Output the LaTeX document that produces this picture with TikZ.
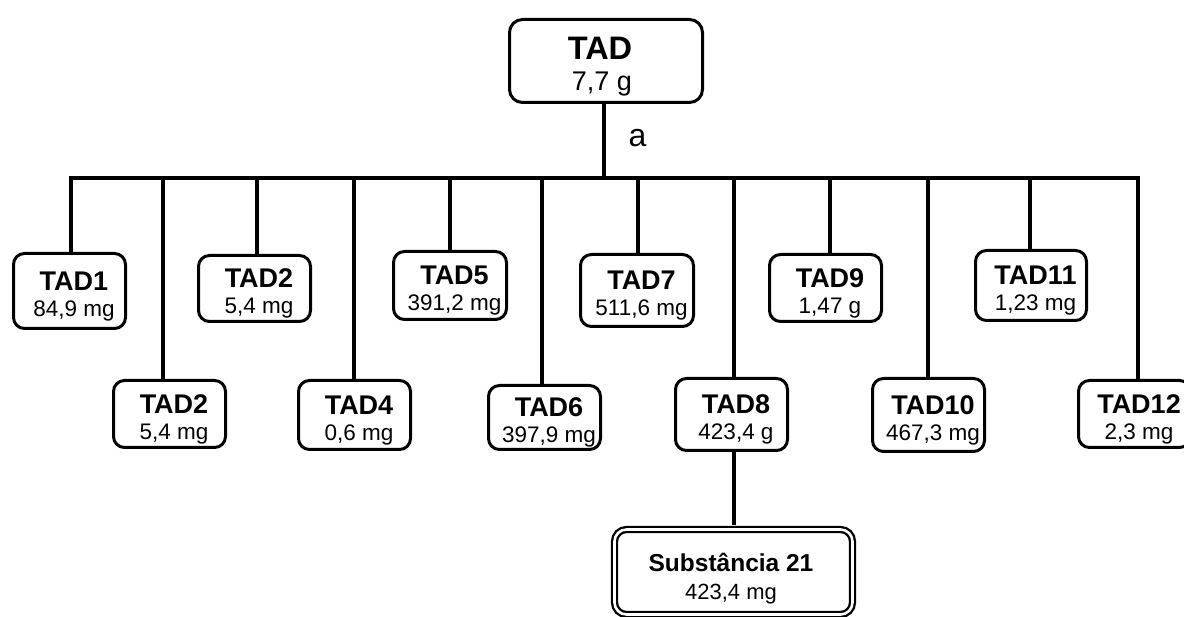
\documentclass[tikz,border=0pt]{standalone}
\usepackage{fontspec}
\setmainfont{Liberation Sans}
\tikzset{
  box/.style={draw, rounded corners=11pt, line width=3pt, inner sep=0pt},
  ttl/.style={font=\fontsize{27}{30}\selectfont\bfseries, anchor=base, inner sep=0pt},
  val/.style={font=\fontsize{22.5}{25}\selectfont, anchor=base, inner sep=0pt},
  link/.style={line width=3.2pt}
}
\newcommand\tadbox[8]{%
  \node[box, minimum width={#4-#2-3}, minimum height={#5-#3-3}] (#1) at ({(#2+#4)/2},{(#3+#5)/2}) {};
  \node[ttl] (#1t) at ({(#2+#4)/2+4.5},{(#3+#5)/2-0.5}) {#7};
  \node[val] (#1v) at ({(#2+#4)/2+4.5},{(#3+#5)/2+25.5}) {#8};
  \coordinate (#1d) at (#6,178);
}
\begin{document}
\begin{tikzpicture}[x=1pt,y=-1pt]
\useasboundingbox (0,0) rectangle (1184,617);
% root
\node[box, rounded corners=13pt, minimum width=193, minimum height=83] (root) at (606,61) {};
\node[ttl, font=\fontsize{32.5}{35}\selectfont\bfseries] (roott) at (600,60) {TAD};
\node[val, font=\fontsize{27}{30}\selectfont] (rootv) at (602,91) {7,7 g};
\coordinate (rd) at (604,178);
\node[anchor=base, inner sep=0pt, font=\fontsize{32}{35}\selectfont] (lbla) at (637.5,146.5) {a};
% children
\tadbox{tadA}{12}{252}{127}{330}{71}{TAD1}{84,9 mg}
\tadbox{tadB}{112}{379}{227}{449}{163}{TAD2}{5,4 mg}
\tadbox{tadC}{197}{254}{312}{323}{257}{TAD2}{5,4 mg}
\tadbox{tadD}{297}{379}{412}{451}{354}{TAD4}{0,6 mg}
\tadbox{tadE}{392}{250}{508}{321}{450}{TAD5}{391,2 mg}
\tadbox{tadF}{487}{384}{602}{451}{542}{TAD6}{397,9 mg}
\tadbox{tadG}{579}{253}{695}{328}{638}{TAD7}{511,6 mg}
\tadbox{tadH}{674}{377}{789}{452}{734}{TAD8}{423,4 g}
\tadbox{tadI}{768}{253}{883}{323}{830}{TAD9}{1,47 g}
\tadbox{tadJ}{871}{377}{986}{453}{928}{TAD10}{467,3 mg}
\tadbox{tadK}{974}{249}{1088}{322}{1030}{TAD11}{1,23 mg}
\tadbox{tadL}{1077}{379}{1192}{449}{1138}{TAD12}{2,3 mg}
% final substance
\node[draw, rounded corners=12pt, line width=2.3pt, double=white, double distance=2.6pt,
      minimum width=238, minimum height=85, inner sep=0pt] (sub) at (733.5,572) {};
\node[ttl, font=\fontsize{24.5}{27}\selectfont\bfseries] (subt) at (731,571) {Substância 21};
\node[val, font=\fontsize{22}{25}\selectfont] (subv) at (731,599) {423,4 mg};
% connectors
\draw[link] (rd |- root.south) -- (rd);
\draw[link] (tadAd |- tadA.north) -- (tadAd) -- (tadLd) -- (tadLd |- tadL.north);
\foreach \n in {tadB,tadC,tadD,tadE,tadF,tadG,tadH,tadI,tadJ,tadK}
  \draw[link] (\n d) -- (\n d |- \n.north);
\draw[link, shorten >=3.5pt] (tadHd |- tadH.south) -- (tadHd |- sub.north);
\end{tikzpicture}
\end{document}
